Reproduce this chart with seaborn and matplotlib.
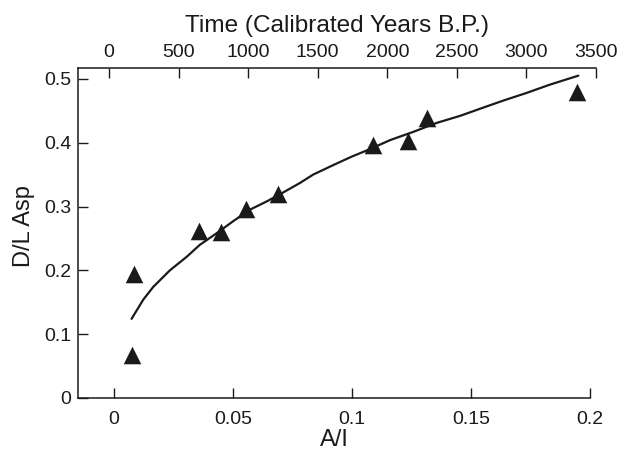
import matplotlib
matplotlib.use("Agg")
import matplotlib.pyplot as plt
import seaborn as sns
import pandas as pd

# Measured points (A/I vs D/L Asp)
ai_points = [0.0074, 0.0084, 0.0357, 0.0448, 0.0553, 0.0690, 0.1087, 0.1237, 0.1314, 0.1947]
dl_points = [0.067, 0.195, 0.261, 0.260, 0.296, 0.320, 0.397, 0.403, 0.439, 0.480]

# Fitted curve
ai_curve = [0.0074, 0.0123, 0.0165, 0.0235, 0.0305, 0.0361, 0.0431, 0.0501, 0.0571,
            0.0642, 0.0711, 0.0782, 0.0837, 0.0922, 0.0998, 0.1076, 0.1160, 0.1258,
            0.1356, 0.1454, 0.1552, 0.1636, 0.1734, 0.1832, 0.1951]
dl_curve = [0.124, 0.154, 0.174, 0.200, 0.221, 0.240, 0.258, 0.277, 0.295,
            0.308, 0.322, 0.337, 0.350, 0.365, 0.378, 0.390, 0.404, 0.417,
            0.431, 0.442, 0.455, 0.466, 0.478, 0.491, 0.505]

x_ticks = [0, 0.05, 0.1, 0.15, 0.2]
x_labels = ["0", "0.05", "0.1", "0.15", "0.2"]
y_ticks = [0, 0.1, 0.2, 0.3, 0.4, 0.5]
y_labels = ["0", "0.1", "0.2", "0.3", "0.4", "0.5"]
top_ticks = [0, 500, 1000, 1500, 2000, 2500, 3000, 3500]
top_labels = [str(t) for t in top_ticks]

sns.set_style("ticks")
plt.rcParams["font.family"] = ["Liberation Sans", "DejaVu Sans"]

W, H = 622, 458
fig = plt.figure(figsize=(W / 100, H / 100), dpi=100)

left_px, right_px, top_px, bottom_px = 78, 590, 68, 398
ax = fig.add_axes([left_px / W, 1 - bottom_px / H, (right_px - left_px) / W, (bottom_px - top_px) / H])

ink = "#1a1a1a"
pts = pd.DataFrame({"A/I": ai_points, "D/L": dl_points})
crv = pd.DataFrame({"A/I": ai_curve, "D/L": dl_curve})

sns.lineplot(data=crv, x="A/I", y="D/L", sort=False, color=ink, linewidth=1.6, ax=ax)
sns.scatterplot(data=pts, x="A/I", y="D/L", marker="^", s=160, color=ink,
                edgecolor=ink, linewidth=0, ax=ax, zorder=3)

ax.set_xlim(-0.0151, 0.2)
ax.set_ylim(0, 0.517)
ax.set_xticks(x_ticks)
ax.set_xticklabels(x_labels)
ax.set_yticks(y_ticks)
ax.set_yticklabels(y_labels)
ax.set_xlabel("A/I", fontsize=17, color=ink, labelpad=1)
ax.set_ylabel("D/L Asp", fontsize=17, color=ink, labelpad=5)
ax.yaxis.set_label_coords(-0.084, 0.52)
ax.tick_params(direction="in", length=7, width=1.0, labelsize=14, colors=ink)
ax.tick_params(axis="x", pad=9)
ax.tick_params(axis="y", pad=5)
ax.spines["right"].set_visible(False)
ax.spines["top"].set_visible(False)
for s in ("left", "bottom"):
    ax.spines[s].set_linewidth(1.1)
    ax.spines[s].set_color(ink)

# Top time axis
ax2 = fig.add_axes([left_px / W, 1 - bottom_px / H, (596 - left_px) / W, (bottom_px - top_px) / H])
ax2.patch.set_visible(False)
ax2.set_xlim(-223, 3500)
ax2.set_ylim(0, 1)
ax2.xaxis.tick_top()
ax2.xaxis.set_label_position("top")
ax2.set_xticks(top_ticks)
ax2.set_xticklabels(top_labels)
ax2.set_yticks([])
for s in ("left", "right", "bottom"):
    ax2.spines[s].set_visible(False)
ax2.spines["top"].set_visible(True)
ax2.spines["top"].set_linewidth(1.1)
ax2.spines["top"].set_color(ink)
ax2.tick_params(axis="x", direction="in", length=7, width=1.0, labelsize=14, colors=ink, pad=5)
ax2.set_xlabel("Time (Calibrated Years B.P.)", fontsize=17.6, color=ink, labelpad=9)

fig.savefig("out.png", dpi=100)
